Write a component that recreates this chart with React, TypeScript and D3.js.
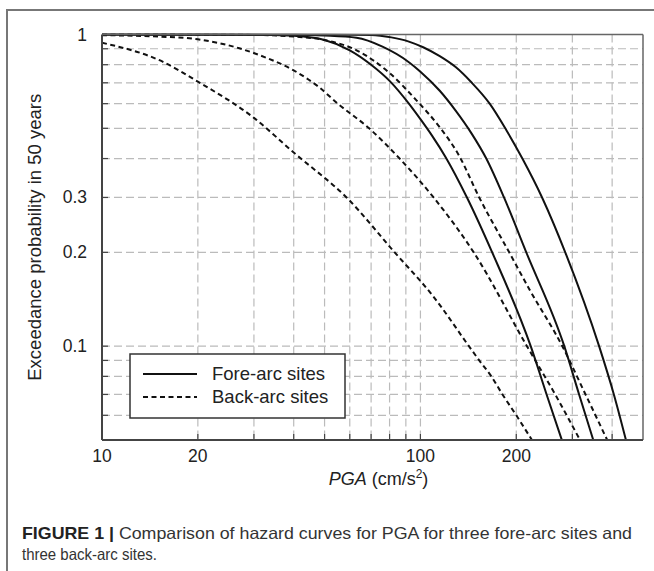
import { scaleLog, line, curveMonotoneX } from "d3";

// axis ticks & grid
const pgaLabeled = [10, 20, 100, 200];
const pgaGrid = [20, 30, 40, 50, 60, 70, 80, 90, 100, 200, 300, 400];
const probLabeled = [1, 0.3, 0.2, 0.1];
const probGrid = [0.9, 0.8, 0.7, 0.6, 0.5, 0.4, 0.3, 0.2, 0.1, 0.09, 0.08, 0.07, 0.06];

// hazard curves: [PGA (cm/s2), exceedance probability]
const foreArc1 = [[10, 1], [30, 0.999], [40, 0.99], [50, 0.96], [60, 0.89], [70, 0.8], [80, 0.71], [92, 0.6], [100, 0.535], [109, 0.472], [120, 0.404], [140, 0.3], [168, 0.2], [222, 0.1], [249, 0.07], [278, 0.05]];
const foreArc2 = [[10, 1], [40, 0.998], [50, 0.992], [63, 0.976], [76, 0.914], [92, 0.815], [100, 0.76], [115, 0.66], [129, 0.57], [145, 0.48], [161, 0.4], [183, 0.3], [215, 0.2], [283, 0.1], [315, 0.07], [349, 0.05]];
const foreArc3 = [[10, 1], [50, 1], [70, 0.996], [81, 0.979], [92, 0.949], [102, 0.91], [115, 0.852], [129, 0.786], [145, 0.7], [165, 0.6], [186, 0.494], [209, 0.4], [241, 0.3], [285, 0.2], [364, 0.1], [405, 0.07], [442, 0.05]];
const backArc1 = [[10, 0.941], [15.5, 0.818], [20, 0.706], [30, 0.54], [40, 0.418], [58.6, 0.3], [83, 0.2], [110, 0.144], [142, 0.1], [153, 0.09], [167, 0.08], [181, 0.07], [200, 0.06], [224, 0.05]];
const backArc2 = [[10, 0.995], [15, 0.985], [20, 0.965], [27, 0.903], [33, 0.84], [40, 0.767], [48, 0.678], [55, 0.6], [69, 0.5], [86, 0.4], [110, 0.3], [147, 0.2], [216, 0.1], [265, 0.07], [317, 0.05]];
const backArc3 = [[10, 1], [30, 0.997], [40, 0.985], [50, 0.96], [63, 0.89], [80, 0.752], [97, 0.616], [115, 0.504], [132, 0.41], [153, 0.3], [190, 0.2], [220, 0.152], [279, 0.1], [330, 0.07], [386, 0.05]];

const foreArc = [foreArc1, foreArc2, foreArc3];
const backArc = [backArc1, backArc2, backArc3];

const W = 654, H = 571;
const left = 102, right = 643, top = 34.5, bottom = 440;
const font = "'Liberation Sans', Arial, sans-serif";

export default function App() {
  const x = scaleLog().domain([10, 500]).range([left, right]);
  const y = scaleLog().domain([0.05, 1]).range([bottom, top]);
  const path = line<number[]>()
    .x(d => x(d[0]))
    .y(d => y(d[1]))
    .curve(curveMonotoneX);

  return (
    <svg width={W} height={H} style={{ position: "absolute", left: 0, top: 0, background: "#fff" }}
      fontFamily={font}>
      {/* figure frame */}
      <line x1={7} x2={W} y1={10} y2={10} stroke="#777" strokeWidth={2} />
      <line x1={7} x2={7} y1={9} y2={H} stroke="#777" strokeWidth={2} />

      <defs>
        <clipPath id="plot">
          <rect x={left} y={top - 1} width={right - left} height={bottom - top + 1} />
        </clipPath>
      </defs>

      {/* grid */}
      {pgaGrid.map(v => (
        <line key={"gx" + v} x1={x(v)} x2={x(v)} y1={top} y2={bottom}
          stroke="#bbb" strokeWidth={1.2} strokeDasharray="8,4" />
      ))}
      {probGrid.map(v => (
        <line key={"gy" + v} x1={left} x2={right} y1={y(v)} y2={y(v)}
          stroke="#bbb" strokeWidth={1.2} strokeDasharray="8,4" />
      ))}

      {/* ticks */}
      {pgaGrid.map(v => (
        <line key={"tx" + v} x1={x(v)} x2={x(v)} y1={bottom} y2={bottom - 6} stroke="#444" strokeWidth={1.2} />
      ))}
      {probGrid.map(v => (
        <line key={"ty" + v} x1={left} x2={left + 6} y1={y(v)} y2={y(v)} stroke="#444" strokeWidth={1.2} />
      ))}

      {/* curves */}
      <g clipPath="url(#plot)" fill="none" stroke="#111" strokeWidth={2}>
        {backArc.map((s, i) => (
          <path key={"b" + i} d={path(s) || ""} strokeDasharray="5,3.5" />
        ))}
        {foreArc.map((s, i) => (
          <path key={"f" + i} d={path(s) || ""} />
        ))}
      </g>

      {/* frame */}
      <line x1={left} x2={right} y1={top} y2={top} stroke="#666" strokeWidth={1.5} />
      <line x1={right} x2={right} y1={top} y2={bottom} stroke="#666" strokeWidth={1.5} />
      <line x1={left} x2={right} y1={bottom} y2={bottom} stroke="#444" strokeWidth={2} />
      <line x1={left} x2={left} y1={top} y2={bottom} stroke="#444" strokeWidth={2} />

      {/* tick labels */}
      {pgaLabeled.map(v => (
        <text key={"lx" + v} x={x(v)} y={462} textAnchor="middle" fontSize={17.5} fill="#222">{v}</text>
      ))}
      {probLabeled.map(v => (
        <text key={"ly" + v} x={87} y={y(v) + 6} textAnchor="end" fontSize={17.5} fill="#222">{v}</text>
      ))}

      {/* axis titles */}
      <text transform={`translate(41,${(top + bottom) / 2}) rotate(-90)`} textAnchor="middle"
        fontSize={17.5} fill="#222" textLength={287} lengthAdjust="spacingAndGlyphs">Exceedance probability in 50 years</text>
      <text x={378.5} y={485} fontSize={18} fill="#222" textAnchor="middle">
        <tspan fontStyle="italic">PGA</tspan>
        <tspan> (cm/s</tspan>
        <tspan dy={-7} fontSize={12}>2</tspan>
        <tspan dy={7}>)</tspan>
      </text>

      {/* legend */}
      <rect x={130} y={354} width={215} height={64} fill="#fff" stroke="#333" strokeWidth={1.5} />
      <line x1={143} x2={197} y1={374} y2={374} stroke="#111" strokeWidth={2} />
      <line x1={143} x2={197} y1={397} y2={397} stroke="#111" strokeWidth={2} strokeDasharray="5,3.5" />
      <text x={212} y={380} fontSize={18.5} fill="#222">Fore-arc sites</text>
      <text x={212} y={403} fontSize={18.5} fill="#222">Back-arc sites</text>

      {/* caption */}
      <text x={22} y={539} fontSize={16.5} fill="#333" textLength={610} lengthAdjust="spacingAndGlyphs">
        <tspan fontWeight="bold" fill="#222">FIGURE 1 |</tspan>
        <tspan> Comparison of hazard curves for PGA for three fore-arc sites and</tspan>
      </text>
      <text x={22} y={560} fontSize={16.5} fill="#333" textLength={135} lengthAdjust="spacingAndGlyphs">
        three back-arc sites.
      </text>
    </svg>
  );
}
